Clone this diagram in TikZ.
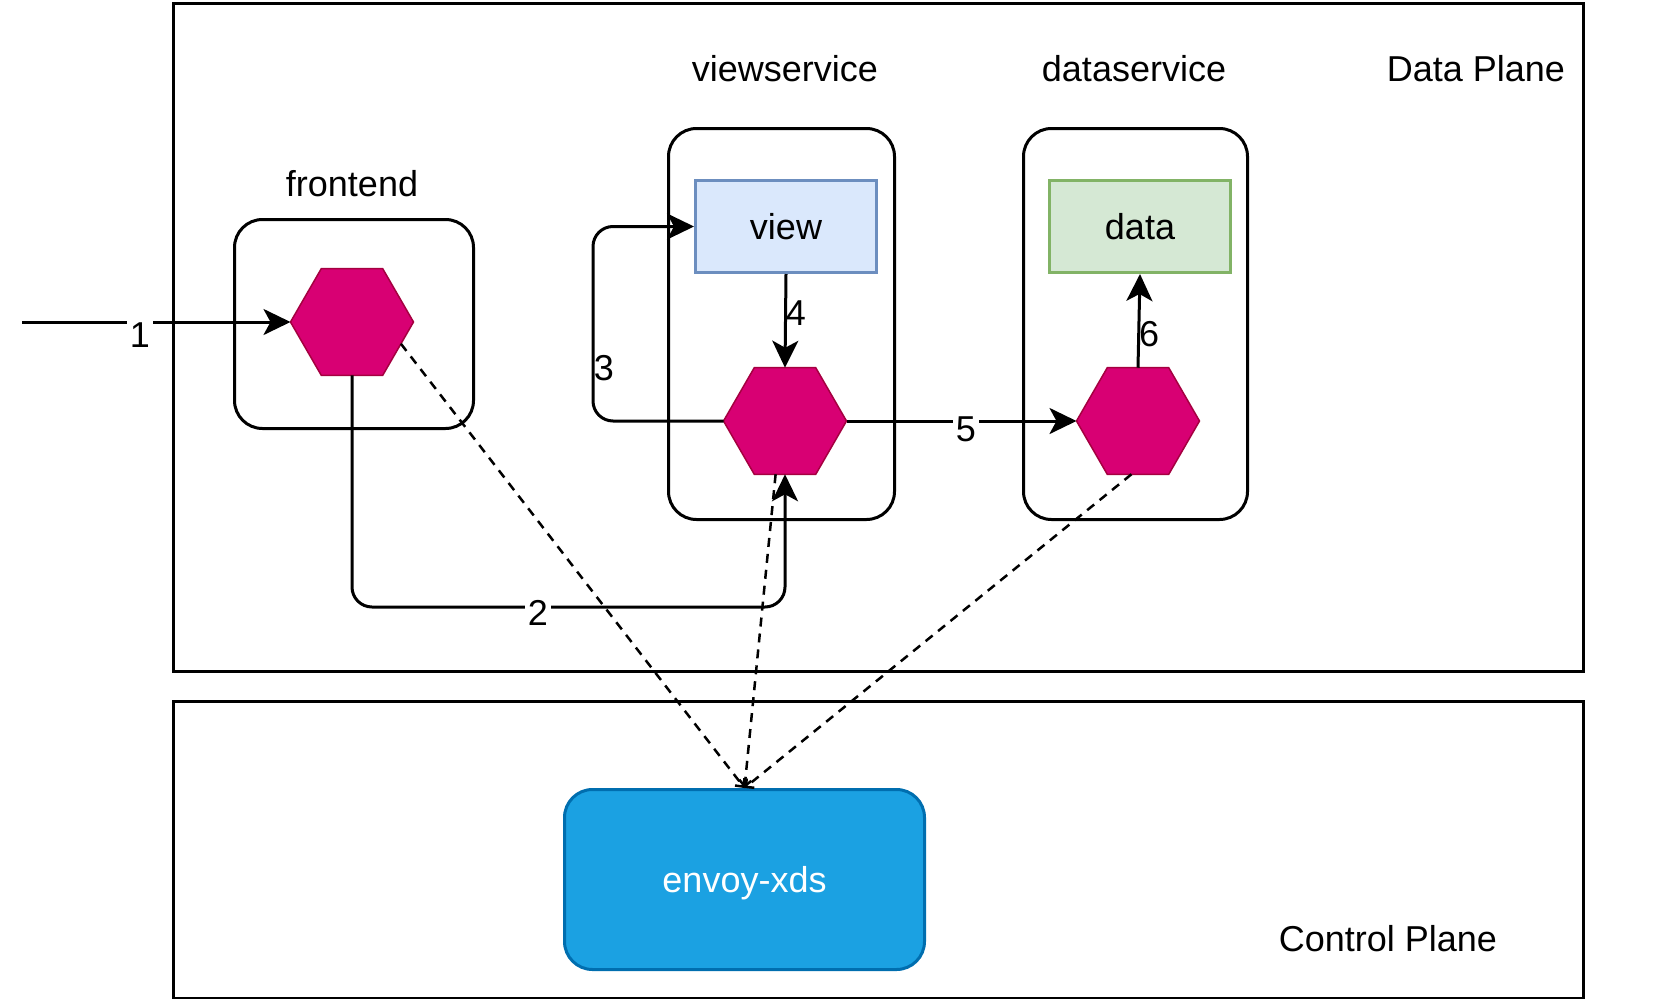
\documentclass[tikz,border=0pt]{standalone}
\usepackage{fontspec}
\setmainfont{Liberation Sans}
\usetikzlibrary{shapes.geometric,arrows.meta,calc}
\definecolor{hexfill}{HTML}{D80073}
\definecolor{hexline}{HTML}{A50040}
\definecolor{viewfill}{HTML}{DAE8FC}
\definecolor{viewline}{HTML}{6C8EBF}
\definecolor{datafill}{HTML}{D5E8D4}
\definecolor{dataline}{HTML}{82B366}
\definecolor{xdsfill}{HTML}{1BA1E2}
\definecolor{xdsline}{HTML}{006EAF}
\begin{document}
\begin{tikzpicture}[x=1pt,y=-1pt,
  every node/.style={font=\fontsize{36}{43}\selectfont},
  plane/.style={draw, line width=3pt, anchor=north west, inner sep=0pt},
  svc/.style={draw, line width=3pt, rounded corners=28pt, anchor=north west, inner sep=0pt},
  hexa/.style={regular polygon, regular polygon sides=6, minimum size=123pt, inner sep=0pt, outer sep=0pt, fill=hexfill, draw=hexline, line width=1.5pt},
  conn/.style={line width=3pt, -{Stealth[length=27pt,width=26pt,inset=7pt]}},
  ctrl/.style={line width=2.5pt, dash pattern=on 9pt off 7pt, -{Straight Barb[length=6pt,width=12pt]}},
  title/.style={anchor=base, inner sep=0pt},
  lbl/.style={anchor=base, fill=white, inner sep=3pt},
  lblp/.style={anchor=base, inner sep=0pt}
]
\useasboundingbox (0,0) rectangle (1674,999);
% planes
\node[plane, minimum width=1410pt, minimum height=668pt] (dp) at (172,2) {};
\node[plane, minimum width=1410pt, minimum height=297pt] (cp) at (172,700) {};
\node[title] (dpt) at (1476,81) {Data Plane};
\node[title] (cpt) at (1388,951) {Control Plane};
% services
\node[svc, minimum width=239pt, minimum height=209pt] (fbox) at (233,218) {};
\node[svc, minimum width=226pt, minimum height=391pt] (vbox) at (667,127) {};
\node[svc, minimum width=224pt, minimum height=391pt] (dbox) at (1022,127) {};
\node[title] (ft) at (352,196) {frontend};
\node[title] (vt) at (785,81) {viewservice};
\node[title] (dt) at (1134,81) {dataservice};
\node[anchor=north west, minimum width=181pt, minimum height=92pt, fill=viewfill, draw=viewline, line width=3pt, inner sep=0pt] (view) at (694,179) {};
\node at (view.center) (viewt) {view};
\node[anchor=north west, minimum width=181pt, minimum height=92pt, fill=datafill, draw=dataline, line width=3pt, inner sep=0pt] (data) at (1048,179) {};
\node at (data.center) (datat) {data};
\node[anchor=north west, minimum width=360pt, minimum height=180pt, fill=xdsfill, draw=xdsline, line width=3pt, rounded corners=28pt, inner sep=0pt] (envoy) at (563,788) {};
\node[text=white, anchor=base] at ($(envoy.center)+(0,13)$) (envoyt) {envoy-xds};
% proxies
\node[hexa] (fh) at (352,322) {};
\node[hexa] (vh) at (785,421) {};
\node[hexa] (dh) at (1138,421) {};
% connectors
\coordinate (in) at (22,322);
\coordinate (c2) at (568,607);
\coordinate (c3) at (593,300);
\draw[conn] (in) -- (fh.west);
\draw[conn, rounded corners=20pt] (fh.south) |- (c2) -| (vh.south);
\draw[conn, rounded corners=20pt] (vh.west) -| (c3) |- (view.west);
\draw[conn] (view.south) -- (vh.north);
\draw[conn] (vh.east) -- (dh.west);
\draw[conn] (dh.north) -- (data.south);
\draw[ctrl] (fh.-24) -- (envoy.north);
\draw[ctrl] (vh.-100) -- (envoy.north);
\draw[ctrl] (dh.-97) -- (envoy.north);
% labels
\node[lbl] (l1) at (140,347) {1};
\node[lbl] (l2) at (538,625) {2};
\node[lblp] (l3) at (604,380) {3};
\node[lblp] (l4) at (796,325) {4};
\node[lbl] (l5) at (966,441) {5};
\node[lblp] (l6) at (1149,346) {6};
\end{tikzpicture}
\end{document}
